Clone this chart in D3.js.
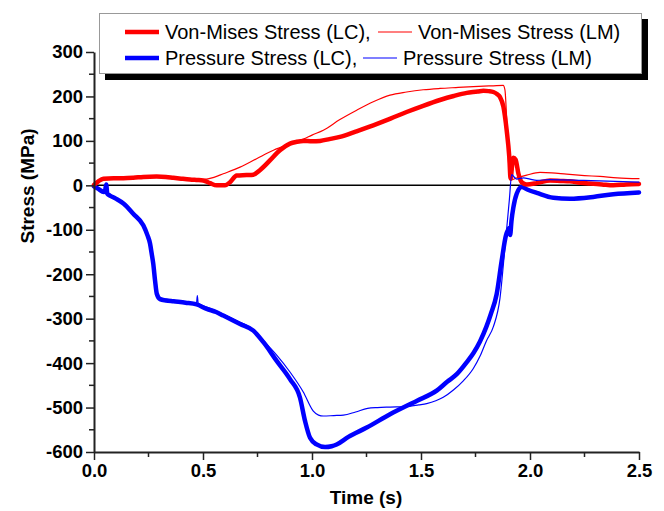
<!DOCTYPE html>
<html>
<head>
<meta charset="utf-8">
<script src="https://cdn.jsdelivr.net/npm/d3@7"></script>
<style>
  html, body { margin: 0; padding: 0; background: #fff; }
  svg { display: block; font-family: Arial, "Liberation Sans", sans-serif; }
</style>
</head>
<body>
<svg id="chart" width="664" height="511"></svg>
<script>
// Von-Mises stress, LC model (thick red)
const vmLcTime = [0, 0.02, 0.043, 0.09, 0.135, 0.18, 0.226, 0.287, 0.33, 0.364, 0.40, 0.44, 0.47, 0.501, 0.532, 0.563, 0.601, 0.624, 0.655, 0.70, 0.731, 0.761, 0.807, 0.853, 0.899, 0.93, 0.96, 1.0, 1.037, 1.08, 1.128, 1.2, 1.281, 1.36, 1.434, 1.51, 1.587, 1.65, 1.71, 1.76, 1.786, 1.81, 1.832, 1.85, 1.862, 1.878, 1.893, 1.905, 1.911, 1.918, 1.924, 1.934, 1.947, 1.962, 1.985, 2.031, 2.092, 2.14, 2.183, 2.23, 2.275, 2.33, 2.382, 2.44, 2.5];
const vmLcValue = [1, 9, 15, 16, 16, 17, 19, 20, 19, 17, 15, 13, 12, 11, 5, 0, 0, 7, 22, 23, 24, 34, 56, 79, 94, 98, 100, 99, 100, 104, 109, 121, 135, 150, 165, 179, 192, 201, 208, 211, 213, 212, 210, 205, 199, 177, 124, 64, 15, 45, 62, 58, 26, 7, 2, 5, 11, 10, 9, 6, 4, 2, 0, 2, 3];

// Von-Mises stress, LM model (thin red)
const vmLmTime = [0, 0.02, 0.043, 0.135, 0.226, 0.287, 0.364, 0.44, 0.5, 0.55, 0.593, 0.67, 0.746, 0.823, 0.904, 0.96, 1.0, 1.052, 1.128, 1.205, 1.281, 1.358, 1.434, 1.51, 1.587, 1.66, 1.74, 1.832, 1.877, 1.885, 1.893, 1.90, 1.906, 1.912, 1.94, 1.985, 2.046, 2.1, 2.168, 2.25, 2.321, 2.4, 2.5];
const vmLmValue = [1, 9, 14, 15, 18, 19, 16, 12, 13, 18, 26, 41, 60, 79, 94, 104, 113, 124, 148, 169, 188, 203, 210, 215, 218, 220, 222, 224, 225, 215, 150, 70, 15, 12, 17, 23, 29, 28, 25, 22, 20, 17, 15];

// Pressure stress, LC model (thick blue)
const prLcTime = [0, 0.02, 0.045, 0.05, 0.056, 0.061, 0.073, 0.1, 0.135, 0.18, 0.226, 0.245, 0.257, 0.265, 0.272, 0.28, 0.288, 0.303, 0.33, 0.364, 0.42, 0.471, 0.517, 0.56, 0.593, 0.67, 0.731, 0.777, 0.838, 0.899, 0.945, 0.968, 0.991, 1.021, 1.06, 1.09, 1.113, 1.167, 1.251, 1.358, 1.48, 1.572, 1.62, 1.664, 1.71, 1.74, 1.77, 1.80, 1.82, 1.847, 1.87, 1.89, 1.90, 1.905, 1.909, 1.915, 1.924, 1.939, 1.962, 1.99, 2.031, 2.107, 2.183, 2.29, 2.382, 2.5];
const prLcValue = [-2, -8, -15, -14, 2, -19, -23, -30, -41, -64, -90, -112, -131, -155, -177, -214, -244, -256, -259, -261, -264, -268, -278, -285, -293, -312, -327, -353, -395, -436, -478, -530, -568, -583, -589, -587, -583, -566, -545, -515, -485, -462, -442, -425, -398, -378, -352, -318, -290, -245, -170, -112, -100, -96, -112, -80, -49, -19, -4, -10, -17, -28, -30, -26, -20, -16];

// Pressure stress, LM model (thin blue)
const prLmTime = [0, 0.045, 0.1, 0.135, 0.18, 0.226, 0.257, 0.272, 0.28, 0.29, 0.303, 0.364, 0.42, 0.47, 0.474, 0.478, 0.517, 0.593, 0.67, 0.716, 0.75, 0.807, 0.838, 0.899, 0.96, 1.006, 1.03, 1.052, 1.1, 1.144, 1.2, 1.255, 1.3, 1.358, 1.434, 1.49, 1.526, 1.602, 1.65, 1.694, 1.74, 1.771, 1.80, 1.832, 1.862, 1.885, 1.905, 1.916, 1.925, 1.939, 1.97, 2.0, 2.03, 2.09, 2.245, 2.5];
const prLmValue = [-2, -14, -29, -40, -63, -89, -130, -176, -212, -245, -253, -258, -262, -266, -248, -266, -274, -290, -308, -320, -335, -365, -382, -420, -465, -508, -517, -519, -518, -517, -510, -502, -500, -499, -498, -494, -491, -477, -460, -440, -412, -384, -350, -318, -255, -140, -34, 24, 20, 14, 17, 14, 11, 13, 11, 7];

// Axis ticks
const xTicks = [0, 0.5, 1.0, 1.5, 2.0, 2.5];
const xMinorTicks = [0.25, 0.75, 1.25, 1.75, 2.25];
const yTicks = [300, 200, 100, 0, -100, -200, -300, -400, -500, -600];
const yMinorTicks = [250, 150, 50, -50, -150, -250, -350, -450, -550];

// Legend rows
const legendRows = [
  [{ label: "Von-Mises Stress (LC),", color: "#ff0000", width: 4.5 }, { label: "Von-Mises Stress (LM)", color: "#ff0000", width: 1.2 }],
  [{ label: "Pressure Stress (LC),", color: "#0000ff", width: 4.5 }, { label: "Pressure Stress (LM)", color: "#0000ff", width: 1.2 }]
];

const svg = d3.select("#chart");

const x = d3.scaleLinear().domain([0, 2.5]).range([94, 639]);
const y = d3.scaleLinear().domain([-600, 300]).range([452, 52]);

// zero reference line
svg.append("line")
  .attr("x1", x(0)).attr("x2", x(2.5))
  .attr("y1", y(0)).attr("y2", y(0))
  .attr("stroke", "#000").attr("stroke-width", 1.5);

const line = d3.line()
  .x(d => x(d[0]))
  .y(d => y(d[1]))
  .curve(d3.curveMonotoneX);

function series(times, values) {
  return times.map((t, i) => [t, values[i]]);
}

const curves = [
  { data: series(prLcTime, prLcValue), color: "#0000ff", width: 4.5 },
  { data: series(vmLcTime, vmLcValue), color: "#ff0000", width: 4.5 },
  { data: series(vmLmTime, vmLmValue), color: "#ff0000", width: 1.2 },
  { data: series(prLmTime, prLmValue), color: "#0000ff", width: 1.2 }
];

svg.append("g").selectAll("path")
  .data(curves)
  .join("path")
  .attr("d", d => line(d.data))
  .attr("fill", "none")
  .attr("stroke", d => d.color)
  .attr("stroke-width", d => d.width)
  .attr("stroke-linejoin", "round")
  .attr("stroke-linecap", "round");

// Bottom axis
const xAxis = svg.append("g").attr("transform", `translate(0,${y(-600)})`);
xAxis.call(d3.axisBottom(x).tickValues(xTicks).tickFormat(d => d.toFixed(1)).tickSizeOuter(0).tickSizeInner(8).tickPadding(4));
xAxis.selectAll(".minor")
  .data(xMinorTicks).join("line").attr("class", "minor")
  .attr("x1", d => x(d)).attr("x2", d => x(d))
  .attr("y1", 0).attr("y2", 5)
  .attr("stroke", "#222").attr("stroke-width", 1.5);

// Left axis (plain hyphen for negative labels)
const yAxis = svg.append("g").attr("transform", `translate(${x(0)},0)`);
yAxis.call(d3.axisLeft(y).tickValues(yTicks).tickFormat(d => String(d)).tickSizeOuter(0).tickSizeInner(8).tickPadding(3));
yAxis.selectAll(".minor")
  .data(yMinorTicks).join("line").attr("class", "minor")
  .attr("x1", 0).attr("x2", -5)
  .attr("y1", d => y(d)).attr("y2", d => y(d))
  .attr("stroke", "#222").attr("stroke-width", 1.5);

[xAxis, yAxis].forEach(g => {
  g.select(".domain").attr("stroke", "#222").attr("stroke-width", 2);
  g.selectAll(".tick line").attr("stroke", "#222").attr("stroke-width", 1.5);
  g.selectAll(".tick text")
    .attr("fill", "#000")
    .style("font-family", "Arial, 'Liberation Sans', sans-serif")
    .style("font-size", "18.5px")
    .style("font-weight", "bold");
});

// Axis titles
svg.append("text")
  .attr("x", 366).attr("y", 504)
  .attr("text-anchor", "middle")
  .style("font-size", "19px").style("font-weight", "bold")
  .text("Time (s)");

svg.append("text")
  .attr("transform", "translate(34,186) rotate(-90)")
  .attr("text-anchor", "middle")
  .style("font-size", "19px").style("font-weight", "bold")
  .text("Stress (MPa)");

// Legend with drop shadow
const legend = svg.append("g");
legend.append("rect")
  .attr("x", 105).attr("y", 19).attr("width", 543).attr("height", 61)
  .attr("fill", "#000");
legend.append("rect")
  .attr("x", 99.5).attr("y", 13.5).attr("width", 542).attr("height", 60)
  .attr("fill", "#fff").attr("stroke", "#999").attr("stroke-width", 1);

const rowY = [32, 58];
const itemX = [[125, 378], [125, 363]];
legendRows.forEach((row, r) => {
  row.forEach((item, c) => {
    const x0 = itemX[r][c];
    legend.append("line")
      .attr("x1", x0).attr("x2", x0 + 34)
      .attr("y1", rowY[r]).attr("y2", rowY[r])
      .attr("stroke", item.color).attr("stroke-width", item.width);
    legend.append("text")
      .attr("x", x0 + 40).attr("y", rowY[r])
      .attr("dy", "0.35em")
      .style("font-size", "20px")
      .text(item.label);
  });
});
</script>
</body>
</html>
